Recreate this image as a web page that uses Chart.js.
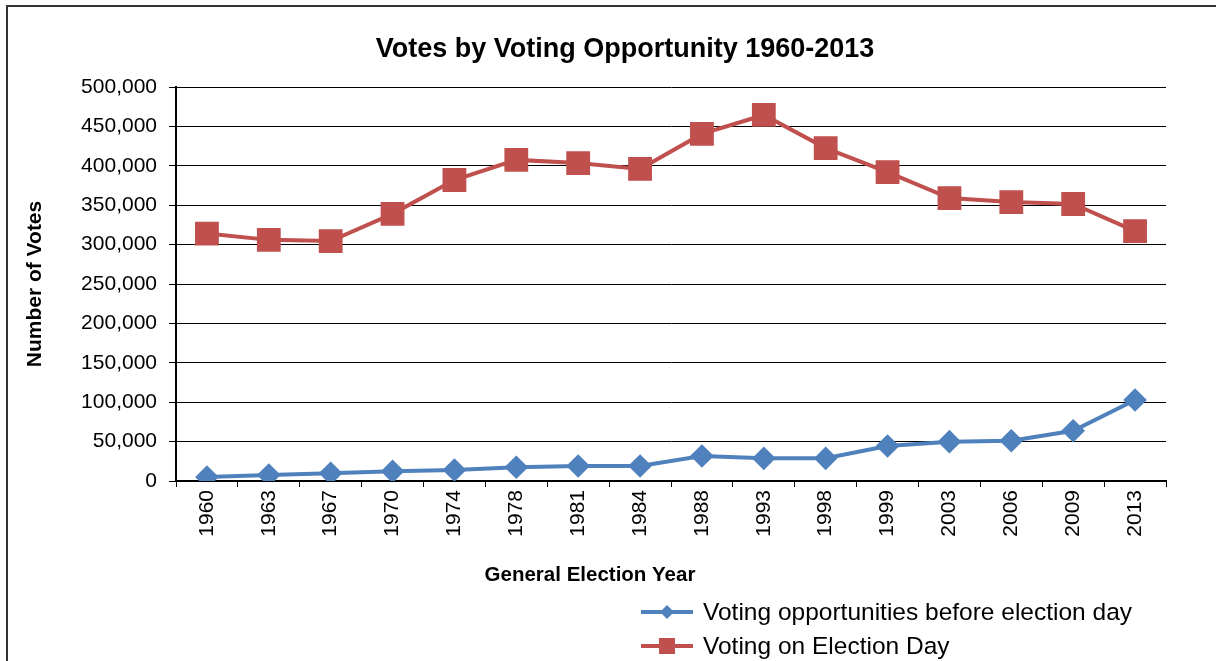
<html>
<head>
<style>
  body { margin: 0; background: #fff; }
</style>
</head>
<body>
<canvas id="votes_chart" width="1216" height="661"></canvas>
<script src="https://cdn.jsdelivr.net/npm/chart.js"></script>
<script>
    const years = ["1960", "1963", "1967", "1970", "1974", "1978", "1981", "1984",
                   "1988", "1993", "1998", "1999", "2003", "2006", "2009", "2013"];
    const beforeDay = [5000, 7600, 9800, 12300, 14000, 17400, 19000, 19000,
                       31700, 28800, 28800, 44400, 49900, 51100, 63800, 102800];
    const electionDay = [314000, 306000, 304500, 339000, 382000, 407500, 403500, 396000,
                         440500, 464500, 422500, 392000, 359000, 354000, 351500, 317000];
    const seriesNames = ["Voting opportunities before election day", "Voting on Election Day"];
    const chartTitle = "Votes by Voting Opportunity 1960-2013";
    const xTitle = "General Election Year";
    const yTitle = "Number of Votes";

    const FONT = "'Liberation Sans', Arial, sans-serif";
    const BLUE = "#4F81BD";
    const RED = "#C0504D";

    // white page, outer frame and the two titles that sit off-centre
    const framePlugin = {
        id: "frame",
        beforeDraw(chart) {
            const ctx = chart.ctx;
            ctx.save();
            ctx.fillStyle = "#fff";
            ctx.fillRect(0, 0, chart.width, chart.height);
            ctx.strokeStyle = "#333";
            ctx.lineWidth = 2;
            ctx.strokeRect(7, 6, chart.width + 20, chart.height + 20);
            ctx.restore();
        },
        afterDraw(chart) {
            const ctx = chart.ctx;
            ctx.save();
            ctx.fillStyle = "#000";
            ctx.textAlign = "center";
            ctx.textBaseline = "middle";
            ctx.font = "bold 27px " + FONT;
            ctx.fillText(chartTitle, 625, 50);
            ctx.font = "bold 20.5px " + FONT;
            ctx.fillText(xTitle, 590, 575);
            ctx.restore();
        }
    };

    // legend drawn like the spreadsheet one: line with marker
    const lineLegend = {
        id: "lineLegend",
        afterDraw(chart) {
            const ctx = chart.ctx;
            ctx.save();
            chart.data.datasets.forEach((ds, i) => {
                const y = 612 + i * 34;
                ctx.strokeStyle = ds.borderColor;
                ctx.lineWidth = 4;
                ctx.beginPath();
                ctx.moveTo(641, y);
                ctx.lineTo(693, y);
                ctx.stroke();
                ctx.fillStyle = ds.backgroundColor;
                ctx.beginPath();
                if (ds.pointStyle === "rectRot") {
                    ctx.moveTo(667, y - 7);
                    ctx.lineTo(674, y);
                    ctx.lineTo(667, y + 7);
                    ctx.lineTo(660, y);
                } else {
                    ctx.rect(659, y - 8, 16, 16);
                }
                ctx.closePath();
                ctx.fill();
                ctx.fillStyle = "#000";
                ctx.font = "24.5px " + FONT;
                ctx.textBaseline = "middle";
                ctx.fillText(ds.label, 703, y + 1);
            });
            ctx.restore();
        }
    };

    const ctx = document.getElementById("votes_chart").getContext("2d");
    const chart = new Chart(ctx, {
        type: "line",
        data: {
            labels: years,
            datasets: [{
                label: seriesNames[0],
                data: beforeDay,
                borderColor: BLUE,
                backgroundColor: BLUE,
                borderWidth: 4,
                pointStyle: "rectRot",
                pointRadius: 9,
                pointHoverRadius: 9,
                tension: 0
            }, {
                label: seriesNames[1],
                data: electionDay,
                borderColor: RED,
                backgroundColor: RED,
                borderWidth: 4,
                pointStyle: "rect",
                pointRadius: 14,
                pointHoverRadius: 14,
                tension: 0
            }]
        },
        options: {
            responsive: false,
            animation: false,
            layout: {
                padding: { left: 10, right: 50, top: 87, bottom: 71 }
            },
            plugins: {
                legend: { display: false },
                tooltip: { enabled: false },
                title: { display: false }
            },
            scales: {
                x: {
                    offset: true,
                    afterFit(scale) { scale.height = 109; },
                    grid: {
                        offset: true,
                        drawOnChartArea: false,
                        color: "#000",
                        tickLength: 6
                    },
                    border: { color: "#000", width: 2 },
                    ticks: {
                        color: "#000",
                        font: { family: FONT, size: 21 },
                        minRotation: 90,
                        maxRotation: 90,
                        padding: 3
                    }
                },
                y: {
                    min: 0,
                    max: 500000,
                    afterFit(scale) { scale.width = 166; },
                    grid: {
                        color: "#000",
                        lineWidth: 1,
                        tickLength: 7
                    },
                    border: { color: "#000", width: 2 },
                    ticks: {
                        stepSize: 50000,
                        color: "#000",
                        font: { family: FONT, size: 21 },
                        padding: 12,
                        callback: (v) => v.toLocaleString("en-US")
                    },
                    title: {
                        display: true,
                        text: yTitle,
                        color: "#000",
                        font: { family: FONT, size: 21, weight: "bold" },
                        padding: { top: 13, bottom: 0 }
                    }
                }
            }
        },
        plugins: [framePlugin, lineLegend]
    });
</script>
</body>
</html>
